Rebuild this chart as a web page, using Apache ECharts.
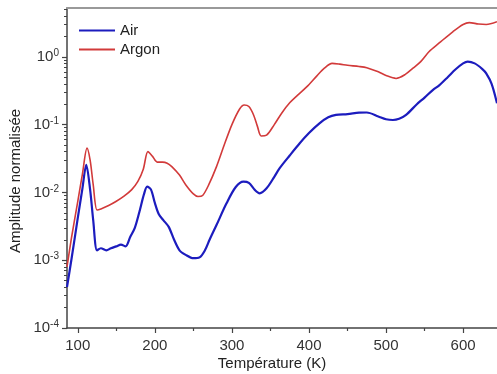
<!DOCTYPE html>
<html><head><meta charset="utf-8">
<script src="https://cdn.jsdelivr.net/npm/echarts@6/dist/echarts.min.js"></script>
<style>html,body{margin:0;padding:0;background:#fff}#c{width:497px;height:374px}</style>
</head><body><div id="c"></div>
<script>
const airT = [86, 92, 100, 106, 111, 116, 120, 125, 130, 137, 143, 150, 156, 162, 168, 174, 180, 186, 190, 195, 200, 205, 211, 218, 225, 232, 240, 250, 258, 265, 271, 280, 293, 305, 315, 322, 330, 336, 345, 355, 362, 375, 388, 400, 414, 425, 435, 450, 465, 475, 490, 500, 509, 517, 526, 540, 550, 561, 569, 580, 590, 600, 606, 615, 625, 630, 637, 644];
const airV = [0.0004, 0.00107, 0.0042, 0.0114, 0.0255, 0.011, 0.0039, 0.0014, 0.0015, 0.0014, 0.0015, 0.0016, 0.0017, 0.0016, 0.0022, 0.003, 0.0052, 0.0095, 0.0122, 0.011, 0.007, 0.0048, 0.0039, 0.0031, 0.002, 0.0014, 0.0012, 0.00107, 0.0011, 0.0014, 0.002, 0.0033, 0.0069, 0.012, 0.0144, 0.0138, 0.0108, 0.0097, 0.0115, 0.017, 0.0228, 0.035, 0.053, 0.075, 0.105, 0.128, 0.139, 0.143, 0.15, 0.151, 0.132, 0.12, 0.117, 0.122, 0.139, 0.2, 0.25, 0.326, 0.38, 0.5, 0.65, 0.8, 0.85, 0.8, 0.66, 0.57, 0.4, 0.207];
const argonT = [86, 92, 100, 106, 112, 116, 120, 125, 130, 140, 150, 160, 170, 178, 185, 191, 197, 203, 210, 216, 222, 232, 240, 250, 256, 262, 270, 280, 290, 300, 310, 316, 322, 328, 333, 338, 345, 355, 365, 375, 385, 397, 410, 420, 430, 440, 450, 465, 475, 490, 500, 513, 525, 535, 545, 556, 569, 587, 600, 608, 620, 630, 644];
const argonV = [0.0008, 0.0022, 0.0074, 0.0186, 0.045, 0.03, 0.013, 0.0055, 0.0057, 0.0064, 0.0074, 0.0088, 0.011, 0.0145, 0.022, 0.040, 0.034, 0.028, 0.028, 0.027, 0.024, 0.018, 0.013, 0.0095, 0.0087, 0.009, 0.013, 0.024, 0.05, 0.1, 0.17, 0.195, 0.185, 0.14, 0.095, 0.068, 0.07, 0.1, 0.15, 0.21, 0.27, 0.36, 0.52, 0.68, 0.8, 0.78, 0.75, 0.72, 0.69, 0.6, 0.53, 0.48, 0.55, 0.68, 0.85, 1.2, 1.6, 2.36, 3.0, 3.2, 3.05, 3.0, 3.3];
const seriesNames = ['Air', 'Argon'];
const xTickLabels = [100, 200, 300, 400, 500, 600];
const xMinorTicks = [150, 250, 350, 450, 550, 650];
const yTickValues = [1e-4, 1e-3, 1e-2, 1e-1, 1];
const yMinorTicks = [];
for (let d = -4; d <= 0; d++) for (let m = 2; m <= 9; m++) yMinorTicks.push(m * Math.pow(10, d));

const FONT = "'Liberation Sans', Arial, sans-serif";
const X_MIN = 86, X_MAX = 644, Y_MIN = 1e-4, Y_MAX = 5.25;
const zip = (a, b) => a.map((v, i) => [v, b[i]]);

const chart = echarts.init(document.getElementById('c'), null, {renderer: 'canvas'});
chart.setOption({
  animation: false,
  backgroundColor: '#fff',
  grid: {left: 67, right: 0, top: 8, bottom: 46},
  legend: {
    left: 74, top: 18, orient: 'vertical', icon: 'rect', itemWidth: 36, itemHeight: 2, itemGap: 4,
    textStyle: {fontSize: 15, color: '#222', fontFamily: FONT}, data: seriesNames
  },
  xAxis: [
    {type: 'value', position: 'bottom', min: X_MIN, max: X_MAX,
     axisLine: {lineStyle: {color: '#444', width: 1.5}},
     axisTick: {show: true, inside: false, length: 5, customValues: xTickLabels, lineStyle: {color: '#444', width: 1.2}},
     axisLabel: {customValues: xTickLabels, margin: 10, fontSize: 15, color: '#333', fontFamily: FONT},
     splitLine: {show: false}},
    {type: 'value', position: 'bottom', min: X_MIN, max: X_MAX,
     axisLine: {show: false},
     axisTick: {show: true, length: 3, customValues: xMinorTicks, lineStyle: {color: '#444', width: 1.2}},
     axisLabel: {show: false}, splitLine: {show: false}},
    {type: 'value', position: 'top', min: X_MIN, max: X_MAX,
     axisLine: {lineStyle: {color: '#999', width: 2}},
     axisTick: {show: false}, axisLabel: {show: false}, splitLine: {show: false}}
  ],
  yAxis: [
    {type: 'log', logBase: 10, position: 'left', min: Y_MIN, max: Y_MAX,
     axisLine: {show: true, lineStyle: {color: '#444', width: 1.5}},
     axisTick: {show: true, length: 5, customValues: yTickValues, lineStyle: {color: '#444', width: 1.2}},
     axisLabel: {customValues: yTickValues, margin: 8, color: '#333', fontFamily: FONT,
       formatter: v => '{b|10}{s|' + Math.round(Math.log10(v)) + '}',
       rich: {b: {fontSize: 15, color: '#333', fontFamily: FONT},
              s: {fontSize: 10, color: '#333', fontFamily: FONT, verticalAlign: 'top', padding: [0, 0, 7, 0]}}},
     splitLine: {show: false}},
    {type: 'log', logBase: 10, position: 'left', min: Y_MIN, max: Y_MAX,
     axisLine: {show: false},
     axisTick: {show: true, length: 3, customValues: yMinorTicks, lineStyle: {color: '#444', width: 1}},
     axisLabel: {show: false}, splitLine: {show: false}}
  ],
  series: [
    {name: seriesNames[0], type: 'line', data: zip(airT, airV), showSymbol: false, smooth: 0.3,
     lineStyle: {color: '#1c1cbe', width: 2.2}, itemStyle: {color: '#1c1cbe'}},
    {name: seriesNames[1], type: 'line', data: zip(argonT, argonV), showSymbol: false, smooth: 0.3,
     lineStyle: {color: '#d23a3a', width: 1.6}, itemStyle: {color: '#d23a3a'}}
  ],
  graphic: [
    {type: 'text', x: 16, y: 181, rotation: Math.PI / 2,
     style: {text: 'Amplitude normalisée', fontSize: 15, fontFamily: FONT, fill: '#222', align: 'center', verticalAlign: 'middle'}},
    {type: 'text', x: 272, y: 364,
     style: {text: 'Température (K)', fontSize: 15, fontFamily: FONT, fill: '#222', align: 'center', verticalAlign: 'middle'}}
  ]
});
</script></body></html>
